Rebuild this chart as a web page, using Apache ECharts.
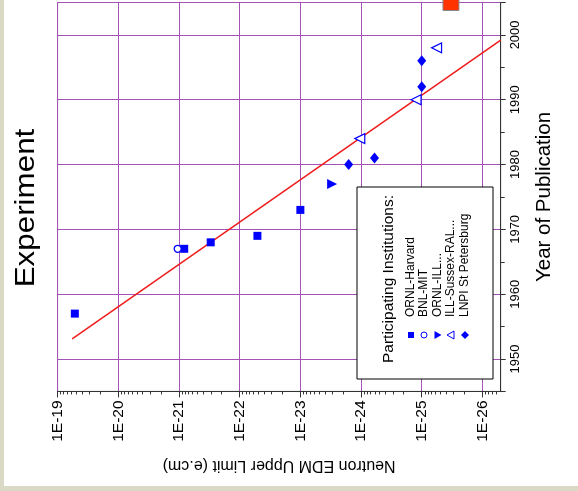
<!DOCTYPE html>
<html><head><meta charset="utf-8">
<script src="https://cdn.jsdelivr.net/npm/echarts@6/dist/echarts.min.js"></script>
<style>
html,body{margin:0;padding:0;background:#d9d9c6;width:578px;height:491px;overflow:hidden;}
#bg{position:absolute;left:4px;top:0;width:574px;height:486px;background:#fff;}
#chart{position:absolute;left:0;top:0;width:578px;height:491px;}
</style></head><body>
<div id="bg"></div><div id="chart"></div>
<script>
// ---- data (years of publication, neutron EDM upper limits in e.cm) ----
const ornlHarvardYear  = [1957, 1967, 1968, 1969, 1973];
const ornlHarvardLimit = [5.2e-20, 8.2e-22, 3.0e-22, 5.1e-23, 1.0e-23];
const bnlMitYear  = [1967];
const bnlMitLimit = [1.05e-21];
const ornlIllYear  = [1977];
const ornlIllLimit = [3.0e-24];
const illSussexYear  = [1984, 1990, 1998];
const illSussexLimit = [1.05e-24, 1.24e-25, 5.7e-26];
const lnpiYear  = [1980, 1981, 1992, 1996];
const lnpiLimit = [1.6e-24, 6.0e-25, 1.0e-25, 1.0e-25];
const futureYear  = [2005];
const futureLimit = [3.3e-26];
const trendYear  = [1953.1, 1999.2];
const trendLimit = [5.75e-20, 5.0e-27];
const xTickLabels = ['1E-19','1E-20','1E-21','1E-22','1E-23','1E-24','1E-25','1E-26'];
const xMinorDecades = [1e-20, 1e-21, 1e-22, 1e-23, 1e-24, 1e-25, 1e-26, 1e-27];
const xMinorMantissas = [2, 3, 4, 5, 6, 7, 8, 9];
const yTickLabels = ['1950','1960','1970','1980','1990','2000'];
const legendNames = ['ORNL-Harvard','BNL-MIT','ORNL-ILL...','ILL-Sussex-RAL...','LNPI St Petersburg'];

const FF = 'Liberation Sans, Arial, Helvetica, sans-serif';
const BLUE = '#0000ff';
const GRID = '#a552b6';
const AXIS = '#333';
const X_MIN = 5.0e-27, X_MAX = 1e-19, Y_MIN = 1945, Y_MAX = 2005;
const pairs = (ys, ls) => ys.map((y, i) => [ls[i], y]);

// minor tick positions on the log axis (decoration, placed through the axis scale)
const minorTickData = [];
xMinorDecades.forEach(d => xMinorMantissas.forEach(m => {
  const v = m * d;
  if (v > X_MIN && v < X_MAX) minorTickData.push([v, Y_MIN]);
}));

const chart = echarts.init(document.getElementById('chart'), null, {renderer: 'canvas'});

const legendCols = [411, 424, 437.5, 451, 465];
const legendSymY = 335;
const legendGraphics = [
  {type: 'rect', z: 50, shape: {x: 357, y: 187, width: 136, height: 192}, style: {fill: '#fff', stroke: '#000', lineWidth: 1}},
  {type: 'text', z: 51, x: 389, y: 363, rotation: Math.PI / 2,
   style: {text: 'Participating Institutions:', fontSize: 15.5, fontFamily: FF, fill: '#000', textAlign: 'left', textVerticalAlign: 'middle'}},
  {type: 'rect', z: 51, shape: {x: legendCols[0] - 3, y: legendSymY - 3, width: 6, height: 6}, style: {fill: BLUE}},
  {type: 'circle', z: 51, shape: {cx: legendCols[1], cy: legendSymY, r: 3}, style: {fill: '#fff', stroke: BLUE, lineWidth: 1}},
  {type: 'polygon', z: 51, shape: {points: [[legendCols[2] - 3, legendSymY - 4], [legendCols[2] - 3, legendSymY + 4], [legendCols[2] + 4, legendSymY]]}, style: {fill: BLUE}},
  {type: 'polygon', z: 51, shape: {points: [[legendCols[3] + 3, legendSymY - 4], [legendCols[3] + 3, legendSymY + 4], [legendCols[3] - 4, legendSymY]]}, style: {fill: '#fff', stroke: BLUE, lineWidth: 1}},
  {type: 'polygon', z: 51, shape: {points: [[legendCols[4], legendSymY - 4], [legendCols[4] + 4, legendSymY], [legendCols[4], legendSymY + 4], [legendCols[4] - 4, legendSymY]]}, style: {fill: BLUE}}
];
legendNames.forEach((n, i) => {
  legendGraphics.push({type: 'text', z: 51, x: legendCols[i], y: 317, rotation: Math.PI / 2,
    style: {text: n, fontSize: 12, fontFamily: FF, fill: '#000', textAlign: 'left', textVerticalAlign: 'middle'}});
});

const option = {
  animation: false,
  backgroundColor: 'transparent',
  textStyle: {fontFamily: FF},
  grid: {left: 57.6, right: 77.3, top: 2.5, bottom: 99.6, show: true, borderColor: '#8f8f8f', borderWidth: 1, backgroundColor: 'transparent', containLabel: false, outerBoundsMode: 'none'},
  xAxis: {
    type: 'log', logBase: 10, inverse: true, min: X_MIN, max: X_MAX,
    name: 'Neutron EDM Upper Limit (e.cm)', nameLocation: 'middle', nameRotate: 180, nameGap: 66, nameMoveOverlap: false,
    nameTextStyle: {fontSize: 16, color: '#000', fontFamily: FF},
    axisLine: {show: true, onZero: false, lineStyle: {color: AXIS, width: 1}},
    axisTick: {show: true, length: 6, lineStyle: {color: AXIS}},
    minorTick: {show: false},
    axisLabel: {rotate: 90, margin: 9, fontSize: 15.5, color: '#000', fontFamily: FF,
      formatter: v => { const x = -Math.log10(v); const e = Math.round(x); return Math.abs(x - e) < 1e-6 ? (xTickLabels[e - 19] || '') : ''; }},
    splitLine: {show: true, lineStyle: {color: GRID, width: 1}}
  },
  yAxis: {
    type: 'value', position: 'right', min: Y_MIN, max: Y_MAX, splitNumber: 6,
    name: 'Year of Publication', nameLocation: 'middle', nameRotate: 90, nameGap: 33, nameMoveOverlap: false,
    nameTextStyle: {fontSize: 20.5, color: '#000', fontFamily: FF},
    axisLine: {show: true, onZero: false, lineStyle: {color: AXIS, width: 1}},
    axisTick: {show: true, length: 5, lineStyle: {color: AXIS}},
    minorTick: {show: true, splitNumber: 2, length: 4, lineStyle: {color: AXIS}},
    axisLabel: {rotate: 90, margin: 8, fontSize: 13, color: '#000', fontFamily: FF,
      formatter: v => yTickLabels.indexOf(String(v)) >= 0 ? String(v) : ''},
    splitLine: {show: true, lineStyle: {color: GRID, width: 1}}
  },
  graphic: [
    {type: 'text', x: 26, y: 208, rotation: Math.PI / 2, scaleX: 1.12,
     style: {text: 'Experiment', fontSize: 28, fontFamily: FF, fill: '#000', textAlign: 'center', textVerticalAlign: 'middle'}}
  ].concat(legendGraphics),
  series: [
    {name: 'minor ticks', type: 'custom', data: minorTickData, clip: false, silent: true, z: 1,
     renderItem: (params, api) => {
       const p = api.coord([api.value(0), api.value(1)]);
       const x = Math.round(p[0]) + 0.5;
       return {type: 'line', shape: {x1: x, y1: p[1], x2: x, y2: p[1] + 3}, style: {stroke: AXIS, lineWidth: 1}};
     }},
    {name: 'Trend', type: 'line', data: pairs(trendYear, trendLimit), showSymbol: false, symbol: 'none',
     lineStyle: {color: '#ee1c1c', width: 1.5}, z: 3, silent: true},
    {name: 'ORNL-Harvard', type: 'scatter', data: pairs(ornlHarvardYear, ornlHarvardLimit), symbol: 'rect', symbolSize: 8,
     itemStyle: {color: BLUE, opacity: 1}, z: 4},
    {name: 'BNL-MIT', type: 'scatter', data: pairs(bnlMitYear, bnlMitLimit), symbol: 'circle', symbolSize: 7,
     itemStyle: {color: '#fff', borderColor: BLUE, borderWidth: 1.3, opacity: 1}, z: 4},
    {name: 'ORNL-ILL...', type: 'scatter', data: pairs(ornlIllYear, ornlIllLimit), symbol: 'triangle', symbolSize: 10, symbolRotate: -90,
     itemStyle: {color: BLUE, opacity: 1}, z: 4},
    {name: 'ILL-Sussex-RAL...', type: 'scatter', data: pairs(illSussexYear, illSussexLimit), symbol: 'triangle', symbolSize: 10, symbolRotate: 90,
     itemStyle: {color: '#fff', borderColor: BLUE, borderWidth: 1.2, opacity: 1}, z: 4},
    {name: 'LNPI St Petersburg', type: 'scatter', data: pairs(lnpiYear, lnpiLimit), symbol: 'diamond', symbolSize: [9, 11],
     itemStyle: {color: BLUE, opacity: 1}, z: 4},
    {name: 'Future', type: 'scatter', data: pairs(futureYear, futureLimit), symbol: 'rect', symbolSize: 16, clip: false,
     itemStyle: {color: '#ff3300', borderColor: '#8a8a8a', borderWidth: 1, opacity: 1}, z: 4}
  ]
};
chart.setOption(option);
</script>
</body></html>
